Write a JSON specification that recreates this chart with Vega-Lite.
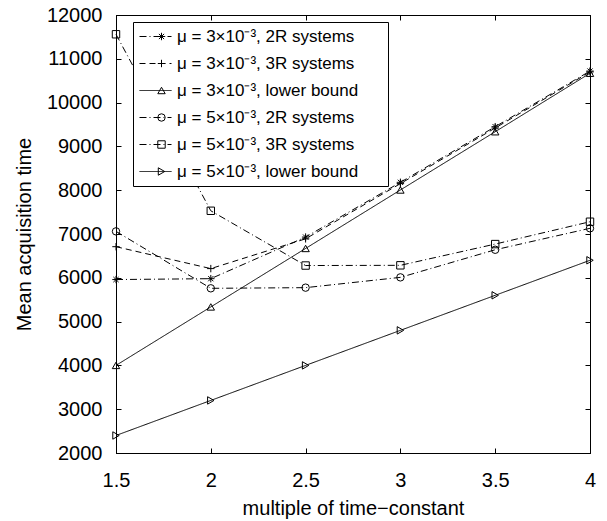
{
  "$schema": "https://vega.github.io/schema/vega-lite/v6.json",
  "width": 474,
  "height": 438,
  "autosize": "none",
  "padding": {"left": 116, "top": 15, "right": 17, "bottom": 68},
  "background": "white",
  "config": {
    "font": "Liberation Sans",
    "view": {"stroke": "black", "strokeWidth": 1},
    "axis": {
      "grid": false,
      "domainColor": "black",
      "tickColor": "black",
      "labelColor": "black",
      "titleColor": "black",
      "labelFont": "Liberation Sans",
      "titleFont": "Liberation Sans",
      "labelFontSize": 20,
      "titleFontSize": 20,
      "titleFontWeight": "normal",
      "tickSize": -5,
      "domainWidth": 1,
      "tickWidth": 1,
      "labelFlush": false
    }
  },
  "data": {
    "values": [
      {"series": "μ = 3×10⁻³, 2R systems", "x": 1.5, "y": 5960},
      {"series": "μ = 3×10⁻³, 2R systems", "x": 2, "y": 5980},
      {"series": "μ = 3×10⁻³, 2R systems", "x": 2.5, "y": 6930},
      {"series": "μ = 3×10⁻³, 2R systems", "x": 3, "y": 8180},
      {"series": "μ = 3×10⁻³, 2R systems", "x": 3.5, "y": 9450},
      {"series": "μ = 3×10⁻³, 2R systems", "x": 4, "y": 10720},
      {"series": "μ = 3×10⁻³, 3R systems", "x": 1.5, "y": 6710},
      {"series": "μ = 3×10⁻³, 3R systems", "x": 2, "y": 6210},
      {"series": "μ = 3×10⁻³, 3R systems", "x": 2.5, "y": 6890},
      {"series": "μ = 3×10⁻³, 3R systems", "x": 3, "y": 8150},
      {"series": "μ = 3×10⁻³, 3R systems", "x": 3.5, "y": 9420},
      {"series": "μ = 3×10⁻³, 3R systems", "x": 4, "y": 10700},
      {"series": "μ = 3×10⁻³, lower bound", "x": 1.5, "y": 4000},
      {"series": "μ = 3×10⁻³, lower bound", "x": 2, "y": 5335},
      {"series": "μ = 3×10⁻³, lower bound", "x": 2.5, "y": 6670},
      {"series": "μ = 3×10⁻³, lower bound", "x": 3, "y": 8005},
      {"series": "μ = 3×10⁻³, lower bound", "x": 3.5, "y": 9335},
      {"series": "μ = 3×10⁻³, lower bound", "x": 4, "y": 10670},
      {"series": "μ = 5×10⁻³, 2R systems", "x": 1.5, "y": 7060},
      {"series": "μ = 5×10⁻³, 2R systems", "x": 2, "y": 5760},
      {"series": "μ = 5×10⁻³, 2R systems", "x": 2.5, "y": 5775},
      {"series": "μ = 5×10⁻³, 2R systems", "x": 3, "y": 6010},
      {"series": "μ = 5×10⁻³, 2R systems", "x": 3.5, "y": 6640},
      {"series": "μ = 5×10⁻³, 2R systems", "x": 4, "y": 7130},
      {"series": "μ = 5×10⁻³, 3R systems", "x": 1.5, "y": 11560},
      {"series": "μ = 5×10⁻³, 3R systems", "x": 2, "y": 7530},
      {"series": "μ = 5×10⁻³, 3R systems", "x": 2.5, "y": 6280},
      {"series": "μ = 5×10⁻³, 3R systems", "x": 3, "y": 6285},
      {"series": "μ = 5×10⁻³, 3R systems", "x": 3.5, "y": 6770},
      {"series": "μ = 5×10⁻³, 3R systems", "x": 4, "y": 7280},
      {"series": "μ = 5×10⁻³, lower bound", "x": 1.5, "y": 2400},
      {"series": "μ = 5×10⁻³, lower bound", "x": 2, "y": 3200},
      {"series": "μ = 5×10⁻³, lower bound", "x": 2.5, "y": 4000},
      {"series": "μ = 5×10⁻³, lower bound", "x": 3, "y": 4800},
      {"series": "μ = 5×10⁻³, lower bound", "x": 3.5, "y": 5600},
      {"series": "μ = 5×10⁻³, lower bound", "x": 4, "y": 6400}
    ]
  },
  "layer": [
    {
      "mark": {"type": "line", "color": "black", "strokeWidth": 1},
      "encoding": {
        "x": {
          "field": "x", "type": "quantitative",
          "scale": {"domain": [1.5, 4], "nice": false, "zero": false},
          "axis": {"orient": "bottom", "values": [1.5, 2, 2.5, 3, 3.5, 4], "format": "~g", "labelPadding": 22, "title": "multiple of time−constant", "titlePadding": 8}
        },
        "y": {
          "field": "y", "type": "quantitative",
          "scale": {"domain": [2000, 12000], "nice": false, "zero": false},
          "axis": {"orient": "left", "values": [2000, 3000, 4000, 5000, 6000, 7000, 8000, 9000, 10000, 11000, 12000], "format": "d", "labelPadding": 19, "title": "Mean acquisition time", "titlePadding": 12}
        },
        "strokeDash": {
          "field": "series", "type": "nominal",
          "scale": {
            "domain": ["μ = 3×10⁻³, 2R systems", "μ = 3×10⁻³, 3R systems", "μ = 3×10⁻³, lower bound", "μ = 5×10⁻³, 2R systems", "μ = 5×10⁻³, 3R systems", "μ = 5×10⁻³, lower bound"],
            "range": [[7, 3, 1, 3], [6, 4], [1, 0], [7, 3, 1, 3], [7, 3, 1, 3], [1, 0]]
          },
          "legend": {
            "title": null,
            "orient": "none",
            "legendX": 17,
            "legendY": 7,
            "padding": 6,
            "strokeColor": "black",
            "fillColor": "white",
            "cornerRadius": 0,
            "symbolType": "stroke",
            "symbolSize": 1024,
            "symbolStrokeColor": "black",
            "symbolStrokeWidth": 1,
            "clipHeight": 17,
            "rowPadding": 9,
            "labelOffset": 5,
            "labelFont": "Liberation Sans",
            "labelFontSize": 17,
            "labelColor": "black",
            "labelLimit": 400,
            "labelExpr": "datum.label + '\u00a0\u00a0\u00a0\u00a0\u00a0\u200b'"
          }
        }
      }
    },
    {
      "mark": {"type": "point", "filled": false, "stroke": "black", "strokeWidth": 1, "size": 55, "opacity": 1},
      "encoding": {
        "x": {
          "field": "x", "type": "quantitative",
          "axis": {"orient": "top", "values": [1.5, 2, 2.5, 3, 3.5, 4], "labels": false, "title": null}
        },
        "y": {
          "field": "y", "type": "quantitative",
          "axis": {"orient": "right", "values": [2000, 3000, 4000, 5000, 6000, 7000, 8000, 9000, 10000, 11000, 12000], "labels": false, "title": null}
        },
        "shape": {
          "field": "series", "type": "nominal",
          "scale": {
            "range": [
              "M-1,0L1,0M0,-1L0,1M-0.7,-0.7L0.7,0.7M-0.7,0.7L0.7,-0.7",
              "M-1,0L1,0M0,-1L0,1",
              "triangle-up",
              "circle",
              "square",
              "triangle-right"
            ]
          },
          "legend": {
            "title": null,
            "orient": "none",
            "legendX": 31,
            "legendY": 7,
            "padding": 6,
            "symbolSize": 55,
            "symbolStrokeColor": "black",
            "symbolFillColor": "transparent",
            "symbolStrokeWidth": 1,
            "clipHeight": 17,
            "rowPadding": 9,
            "labelExpr": "''",
            "labelFontSize": 17,
            "labelFont": "Liberation Sans"
          }
        }
      }
    }
  ]
}
